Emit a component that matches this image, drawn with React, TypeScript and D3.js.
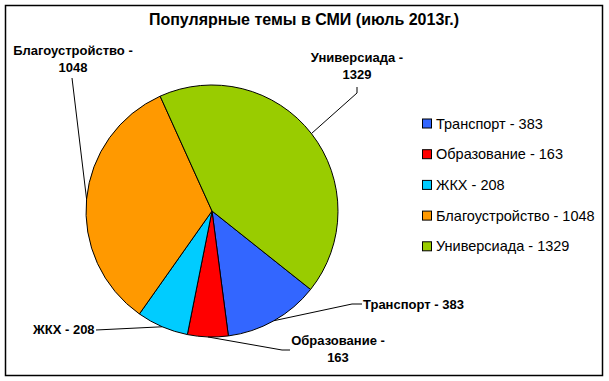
import React from "react";
import * as d3 from "d3";

const categories = ["Транспорт", "Образование", "ЖКХ", "Благоустройство", "Универсиада"];
const values = [383, 163, 208, 1048, 1329];
const colors = ["#3366FF", "#FF0000", "#00CCFF", "#FF9900", "#99CC00"];
const title = "Популярные темы в СМИ (июль 2013г.)";

// label layout: lines, text anchor position, leader-line points (label side)
const labelLayout = [
  { lines: ["Транспорт - 383"], x: 363, y: 309, anchor: "start", leader: [[362, 304], [352, 304]] },
  { lines: ["Образование -", "163"], x: 338, y: 345, anchor: "middle", leader: [[290, 350], [282, 350]] },
  { lines: ["ЖКХ - 208"], x: 33, y: 334, anchor: "start", leader: [[96, 330]] },
  { lines: ["Благоустройство -", "1048"], x: 73, y: 55, anchor: "middle", leader: [[72, 78]] },
  { lines: ["Универсиада -", "1329"], x: 357, y: 62, anchor: "middle", leader: [[357, 87], [357, 93]] },
];

export default function App() {
  const W = 609, H = 381;
  const cx = 212, cy = 211, r = 126;
  const startDeg = 128.5;
  const pie = d3
    .pie<number>()
    .sort(null)
    .value((d) => d)
    .startAngle((startDeg * Math.PI) / 180)
    .endAngle(((startDeg + 360) * Math.PI) / 180);
  const arcs = pie(values);
  const arcGen = d3.arc<d3.PieArcDatum<number>>().innerRadius(0).outerRadius(r);
  const font = "Arial, 'Liberation Sans', sans-serif";

  return (
    <svg width={W} height={H} style={{ position: "absolute", left: 0, top: 0 }}>
      <rect x={0} y={0} width={W} height={H} fill="#fff" />
      <rect x={5.5} y={5.5} width={597} height={370} fill="#fff" stroke="#000" strokeWidth={1.5} />
      <text x={304} y={25} textAnchor="middle" fontFamily={font} fontWeight="bold" fontSize={16} fill="#000">
        {title}
      </text>
      <g transform={`translate(${cx},${cy})`}>
        {arcs.map((a, i) => (
          <path key={i} d={arcGen(a) || ""} fill={colors[i]} stroke="#000" strokeWidth={1} />
        ))}
      </g>
      {arcs.map((a, i) => {
        const mid = (a.startAngle + a.endAngle) / 2;
        const px = cx + r * Math.sin(mid);
        const py = cy - r * Math.cos(mid);
        const L = labelLayout[i];
        const pts = [...L.leader, [px, py]];
        return (
          <g key={i}>
            <polyline points={pts.map((p) => p.join(",")).join(" ")} fill="none" stroke="#000" strokeWidth={1} />
            <text x={L.x} y={L.y} textAnchor={L.anchor as any} fontFamily={font} fontWeight="bold" fontSize={13} fill="#000">
              {L.lines.map((ln, j) => (
                <tspan key={j} x={L.x} dy={j === 0 ? 0 : 17}>
                  {ln}
                </tspan>
              ))}
            </text>
          </g>
        );
      })}
      <g>
        {categories.map((c, i) => {
          const yc = 123.5 + i * 30.7;
          return (
            <g key={i}>
              <rect x={422.5} y={yc - 4.5} width={9} height={9} fill={colors[i]} stroke="#000" strokeWidth={1} />
              <text x={436} y={yc + 5} fontFamily={font} fontSize={14.5} fill="#000">
                {`${c} - ${values[i]}`}
              </text>
            </g>
          );
        })}
      </g>
    </svg>
  );
}
